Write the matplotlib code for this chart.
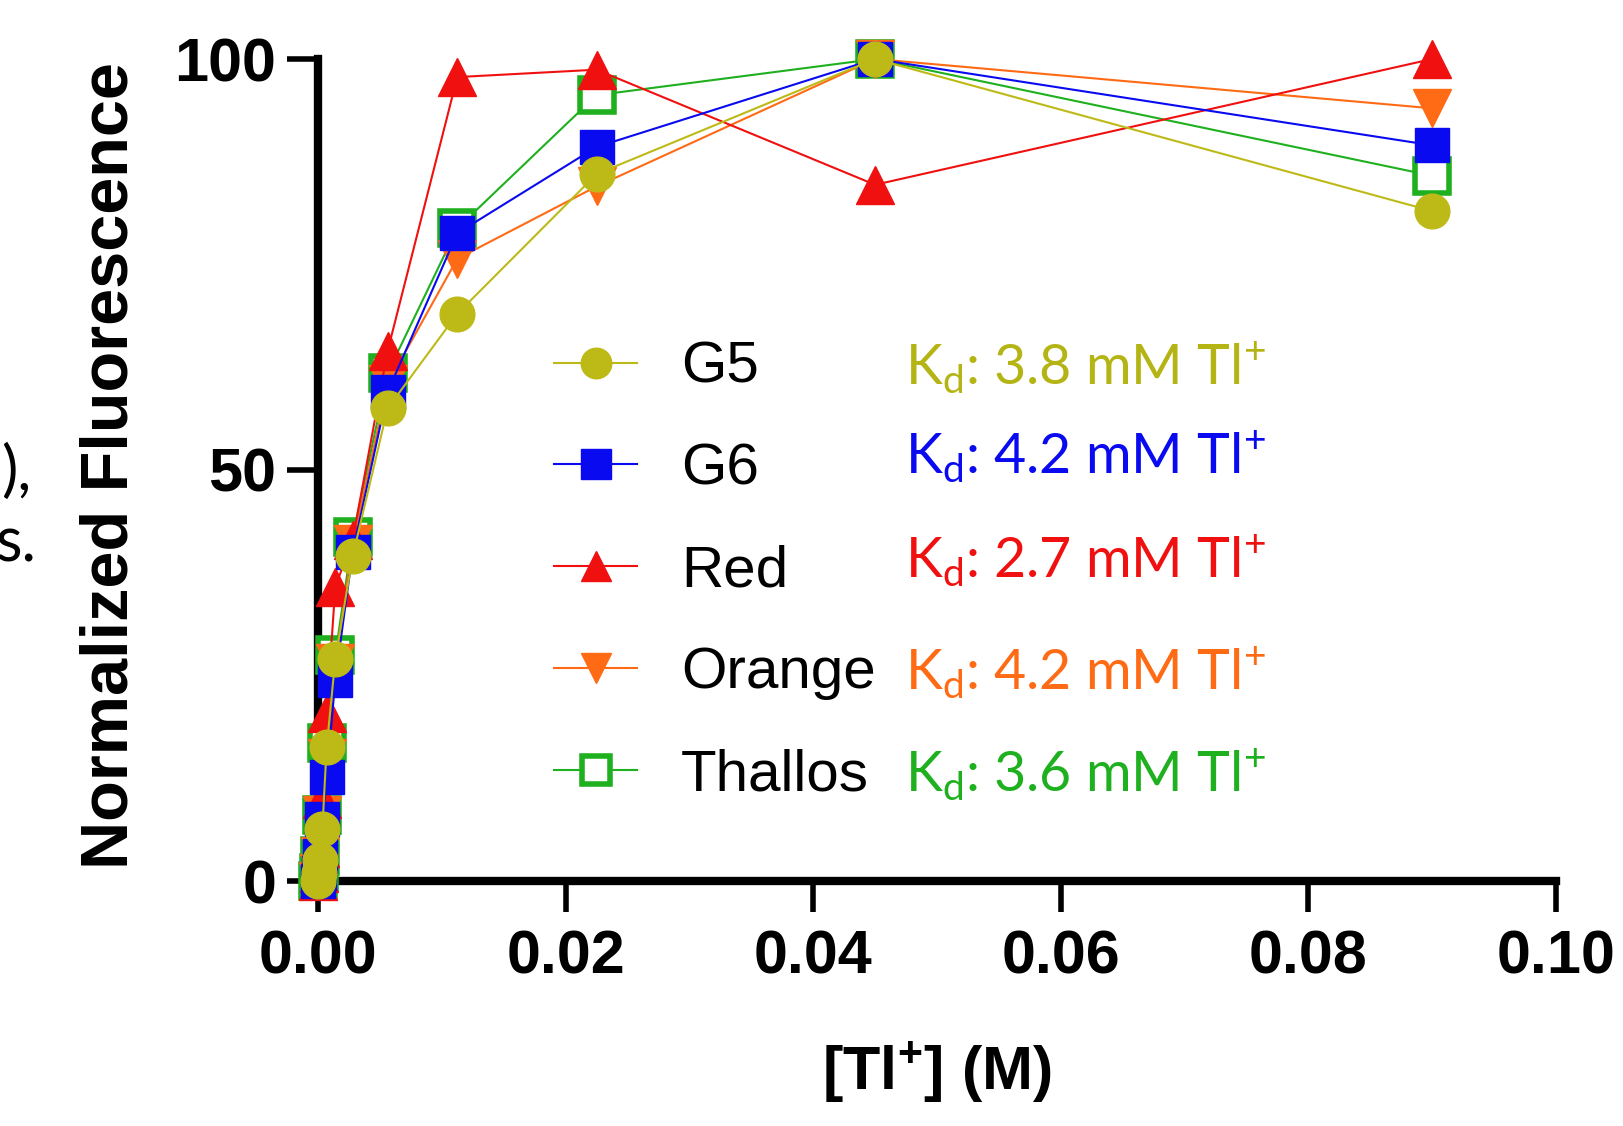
import matplotlib
matplotlib.use("Agg")
import matplotlib.pyplot as plt
from matplotlib.lines import Line2D

# [Tl+] in M, two-fold dilution series
conc = [0.0, 0.000088, 0.000176, 0.00035, 0.0007, 0.0014, 0.0028,
        0.005625, 0.01125, 0.0225, 0.045, 0.09]

g5      = [0, 1.0, 2.5, 6.3, 16.3, 27.0, 39.5, 57.5, 69.0, 86.0, 100, 81.5]
g6      = [0, 1.0, 3.0, 7.5, 12.7, 24.5, 40.0, 59.5, 78.8, 89.3, 100, 89.5]
red     = [0, 1.0, 4.0, 10.0, 20.4, 35.8, 41.5, 64.5, 97.8, 98.7, 84.7, 100]
orange  = [0, 1.0, 3.0, 8.0, 15.0, 26.5, 41.0, 60.5, 75.7, 84.5, 100, 94.0]
thallos = [0, 1.0, 3.0, 8.0, 16.8, 27.5, 41.9, 61.8, 79.4, 95.6, 100, 85.8]

names = ["G5", "G6", "Red", "Orange", "Thallos"]
kd_labels = ["3.8", "4.2", "2.7", "4.2", "3.6"]

olive = "#BDBA18"
olive_txt = "#B4B414"
blue = "#0A0AF0"
redc = "#F01010"
orng = "#FF6A14"
green = "#1EB01E"

fig = plt.figure(figsize=(16.24, 11.26), dpi=100)
ax = fig.add_axes([318/1624, 1-881/1126, (1556-318)/1624, (881-59)/1126])

ms = 25
# drawing order: open squares at the back, circles on top
ax.plot(conc, thallos, color=green, lw=1.5, marker="s", ms=ms, mfc="white",
        mec=green, mew=4, clip_on=False, zorder=3)
ax.plot(conc, orange, color=orng, lw=1.5, marker="v", ms=ms+2, mfc=orng,
        mec=orng, clip_on=False, zorder=4)
ax.plot(conc, red, color=redc, lw=1.5, marker="^", ms=ms+2, mfc=redc,
        mec=redc, clip_on=False, zorder=5)
ax.plot(conc, g6, color=blue, lw=1.5, marker="s", ms=ms-1, mfc=blue,
        mec=blue, clip_on=False, zorder=6)
ax.plot(conc, g5, color=olive, lw=1.5, marker="o", ms=ms, mfc=olive,
        mec=olive, clip_on=False, zorder=7)

ax.set_xlim(0, 0.1)
ax.set_ylim(0, 100)
ax.set_xticks([0, 0.02, 0.04, 0.06, 0.08, 0.10])
ax.set_xticklabels(["0.00", "0.02", "0.04", "0.06", "0.08", "0.10"])
ax.set_yticks([0, 50, 100])

for s in ["top", "right"]:
    ax.spines[s].set_visible(False)
for s in ["left", "bottom"]:
    ax.spines[s].set_linewidth(6)
    ax.spines[s].set_zorder(2)
ax.tick_params(direction="out", length=22, width=4, pad=8, labelsize=44)
ax.tick_params(axis="x", pad=13)
for lab in ax.get_xticklabels() + ax.get_yticklabels():
    lab.set_fontfamily("Liberation Sans")
    lab.set_fontweight("bold")

ax.set_ylabel("Normalized Fluorescence", fontsize=48, fontweight="bold",
              family="Liberation Sans")
ax.yaxis.set_label_coords(142/1624, 1-466/1126, transform=fig.transFigure)
ax.set_xlabel(r"[Tl$^{\mathregular{+}}$] (M)", fontsize=44, fontweight="bold",
              family="Liberation Sans")
ax.xaxis.set_label_coords(937/1624, 1-1040/1126, transform=fig.transFigure)

handles = [
    Line2D([], [], color=olive, lw=1.5, marker="o", ms=22, mfc=olive, mec=olive),
    Line2D([], [], color=blue, lw=1.5, marker="s", ms=22, mfc=blue, mec=blue),
    Line2D([], [], color=redc, lw=1.5, marker="^", ms=22, mfc=redc, mec=redc),
    Line2D([], [], color=orng, lw=1.5, marker="v", ms=22, mfc=orng, mec=orng),
    Line2D([], [], color=green, lw=1.5, marker="s", ms=20, mfc="white", mec=green, mew=4),
]
leg = ax.legend(handles, names, loc="upper left",
                bbox_to_anchor=(554/1624, 1-341/1126),
                bbox_transform=fig.transFigure, frameon=False,
                prop={"family": "Liberation Sans", "size": 42},
                handlelength=1.43, handletextpad=0.75, labelspacing=0.82,
                borderpad=0, borderaxespad=0)

kd_colors = [olive_txt, blue, redc, orng, green]
kd_base = [385, 474, 578, 690, 792]
for lab, c, yb in zip(kd_labels, kd_colors, kd_base):
    fig.text(1266/1624, 1-yb/1126,
             r"K$_{\mathregular{d}}$: " + lab + r" mM Tl$^{\mathregular{+}}$",
             color=c, fontsize=40, family="Lato", ha="right", va="baseline")

# cut-off text from neighbouring slide
fig.text(31/1624, 1-490/1126, "),", fontsize=44, family="Lato",
         ha="right", va="baseline")
fig.text(37/1624, 1-562/1126, "s.", fontsize=44, family="Lato",
         ha="right", va="baseline")

fig.savefig("out.png", dpi=100)
